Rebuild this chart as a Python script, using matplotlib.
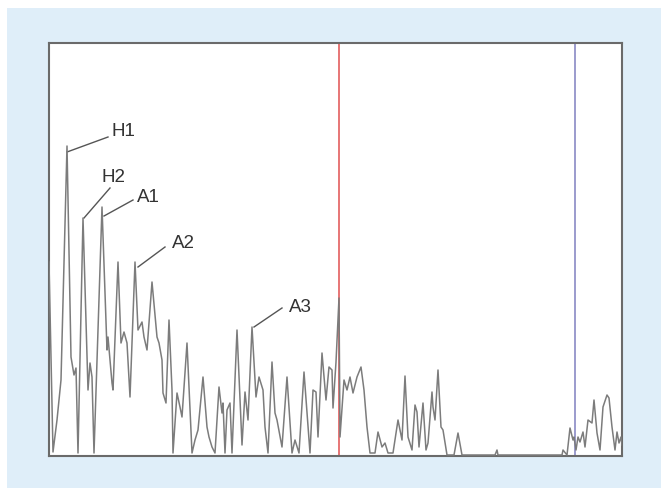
import matplotlib
matplotlib.use('Agg')
import matplotlib.pyplot as plt
from matplotlib.patches import Rectangle

# signal trace (x position, amplitude)
xs = [0, 4, 8, 12, 18, 22, 25, 27, 29, 34, 39, 41, 43, 45, 53, 58, 59, 63, 64, 69,
      72, 75, 78, 81, 86, 89, 93, 95, 98, 103, 108, 110, 113, 114, 117, 120, 123, 124,
      128, 131, 133, 138, 143, 146, 149, 154, 158, 160, 163, 166, 170, 173, 174, 176,
      178, 181, 183, 188, 193, 196, 199, 203, 207, 210, 214, 216, 219, 223, 226, 228,
      233, 238, 243, 246, 250, 255, 258, 261, 264, 267, 269, 273, 277, 280, 283, 284,
      287, 290, 291, 295, 298, 301, 304, 308, 312, 315, 318, 321, 326, 329, 333, 336,
      339, 344, 349, 353, 356, 359, 363, 366, 368, 370, 374, 377, 379, 383, 384, 386,
      389, 392, 394, 398, 405, 409, 413, 446, 448, 449, 513, 514, 518, 521, 524, 525,
      527, 529, 531, 534, 536, 539, 543, 545, 548, 551, 554, 558, 560, 563, 566, 568,
      570, 572, 573]
amp = [194, 4, 36, 76, 310, 99, 81, 88, 3, 238, 66, 93, 79, 3, 249, 106, 119, 73, 66, 194,
       113, 124, 113, 59, 194, 126, 134, 119, 106, 174, 119, 113, 96, 63, 53, 136, 66, 3,
       63, 49, 39, 113, 3, 16, 26, 79, 29, 19, 9, 3, 69, 43, 53, 3,
       46, 53, 3, 126, 11, 64, 36, 129, 59, 79, 66, 29, 3, 94, 43, 36,
       9, 79, 3, 16, 3, 84, 43, 3, 66, 64, 19, 103, 56, 89, 86, 48,
       94, 158, 19, 76, 66, 79, 63, 79, 89, 66, 29, 3, 3, 24, 9, 13,
       3, 3, 36, 16, 80, 19, 6, 51, 44, 9, 53, 6, 13, 64, 49, 36,
       86, 29, 26, 1, 1, 23, 1, 1, 6, 1, 1, 6, 1, 28, 16, 19,
       6, 19, 14, 24, 9, 36, 33, 56, 23, 6, 49, 61, 58, 29, 6, 24,
       13, 19, 11]

red_x = 290
blue_x = 526

# peak labels: name, peak point, leader end, text anchor
labels = ['H1', 'H2', 'A1', 'A2', 'A3']
peak_pts = [(18, 304), (35, 238), (55, 240), (89, 189), (205, 129)]
lead_end = [(59, 319), (61, 268), (84, 256), (116, 209), (233, 148)]
text_pos = [(62, 324), (52, 279), (88, 259), (123, 213), (240, 149)]

fig = plt.figure(figsize=(6.61, 4.88), dpi=100)
fig.patch.set_facecolor('white')
fig.patches.append(Rectangle((7 / 661, 0), 1, 480 / 488, transform=fig.transFigure,
                             facecolor='#dfeef9', edgecolor='none', zorder=0))

ax = fig.add_axes([49 / 661, 32 / 488, 573 / 661, 413 / 488])
ax.set_zorder(2)
ax.set_facecolor('white')
ax.plot(xs, amp, color='#7c7c7c', lw=1.1, zorder=3)
ax.axvline(red_x, color='#e05050', lw=1.1, zorder=2)
ax.axvline(blue_x, color='#8080c0', lw=1.1, zorder=2)

for name, p, e, t in zip(labels, peak_pts, lead_end, text_pos):
    ax.plot([p[0], e[0]], [p[1], e[1]], color='#555555', lw=1)
    ax.text(t[0], t[1], name, ha='left', va='center', fontsize=13.5,
            family='Liberation Sans', color='#333333')

ax.set_xlim(0, 573)
ax.set_ylim(0, 413)
ax.set_xticks([])
ax.set_yticks([])
for s in ax.spines.values():
    s.set_color('#6a6a6a')
    s.set_linewidth(1.5)

fig.savefig('out.png', dpi=100)
